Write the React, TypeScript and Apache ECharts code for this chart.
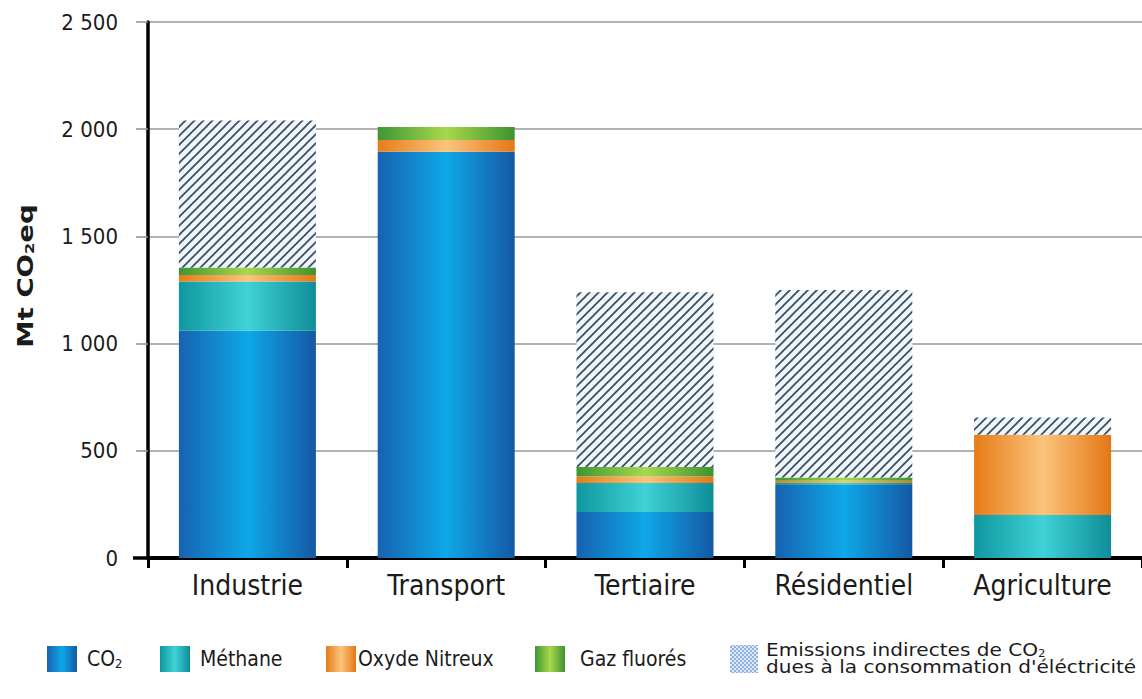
import React, { useEffect, useRef } from "react";
import * as echarts from "echarts";

// Sectors and greenhouse-gas contributions (Mt CO2eq)
const categories = ["Industrie", "Transport", "Tertiaire", "Résidentiel", "Agriculture"];
const co2 = [1060, 1895, 215, 340, 0];
const methane = [230, 0, 135, 10, 200];
const oxydeNitreux = [30, 55, 30, 10, 375];
const gazFluores = [35, 60, 45, 15, 0];
const emissionsIndirectes = [685, 0, 815, 875, 80];

const yTicks = [0, 500, 1000, 1500, 2000, 2500];

const NARROW = '"Liberation Sans Narrow", "DejaVu Sans Condensed", "Arial Narrow", sans-serif';
const WIDE = '"DejaVu Sans", sans-serif';
const TEXT = "#1b1b1b";

// horizontal "cylinder" shading: dark edges, light centre
const shade = (edgeL: string, mid: string, edgeR: string) =>
  new echarts.graphic.LinearGradient(0, 0, 1, 0, [
    { offset: 0, color: edgeL },
    { offset: 0.5, color: mid },
    { offset: 1, color: edgeR },
  ]);

const CO2_FILL = () => shade("#1762b0", "#0ea8e8", "#1558a4");
const CH4_FILL = () => shade("#0f97a0", "#3fd2d6", "#0e8d98");
const N2O_FILL = () => shade("#e67c18", "#fbc47c", "#e57716");
const FGAS_FILL = () => shade("#3e9634", "#a8d84c", "#3d9232");

// "////" hatching tile for the indirect-emission bars
function hatchTile(): HTMLCanvasElement {
  const s = 9;
  const c = document.createElement("canvas");
  c.width = s;
  c.height = s;
  const g = c.getContext("2d")!;
  g.fillStyle = "#edf6fc";
  g.fillRect(0, 0, s, s);
  g.strokeStyle = "#3c4a59";
  g.lineWidth = 1.7;
  g.lineCap = "square";
  const seg = (x0: number, y0: number, x1: number, y1: number) => {
    g.beginPath();
    g.moveTo(x0, y0);
    g.lineTo(x1, y1);
    g.stroke();
  };
  seg(0, s, s, 0);
  seg(-s / 2, s / 2, s / 2, -s / 2);
  seg(s / 2, s + s / 2, s + s / 2, s / 2);
  return c;
}

// fine dotted tile for the legend swatch of indirect emissions
function dotTile(): HTMLCanvasElement {
  const s = 4;
  const c = document.createElement("canvas");
  c.width = s;
  c.height = s;
  const g = c.getContext("2d")!;
  g.fillStyle = "#dde9f6";
  g.fillRect(0, 0, s, s);
  g.fillStyle = "#8fb3dc";
  g.fillRect(0, 0, 2, 2);
  g.fillRect(2, 2, 2, 2);
  return c;
}

export default function App() {
  const ref = useRef<HTMLDivElement>(null);

  useEffect(() => {
    if (!ref.current) return;
    const chart = echarts.init(ref.current, undefined, { renderer: "svg" });

    const barW = 137;
    const bar = (name: string, data: number[], color: any) => ({
      name,
      type: "bar",
      stack: "total",
      barWidth: barW,
      data,
      itemStyle: { color },
      emphasis: { disabled: true },
    });

    const legendY = 659;
    const legendBox = (x: number, fill: any) => ({
      type: "rect",
      shape: { x, y: legendY - 13, width: 30, height: 26 },
      style: { fill },
    });
    const legendText = (x: number, text: string, rich?: any) => ({
      type: "text",
      x,
      y: legendY,
      style: {
        text,
        rich,
        font: `21px ${NARROW}`,
        fill: TEXT,
        textVerticalAlign: "middle",
        textAlign: "left",
      },
    });

    const subRich = {
      a: { fontSize: 21, fontFamily: NARROW, fill: TEXT },
      s: { fontSize: 13, fontFamily: NARROW, fill: TEXT, padding: [8, 0, 0, 0] },
    };

    chart.setOption({
      animation: false,
      backgroundColor: "#ffffff",
      grid: { left: 148, top: 22, bottom: 141, right: -6, containLabel: false },
      xAxis: {
        type: "category",
        data: categories,
        axisLine: { lineStyle: { color: "#000", width: 4 } },
        axisTick: { show: true, length: 10, lineStyle: { color: "#000", width: 3 } },
        axisLabel: {
          color: TEXT,
          fontFamily: NARROW,
          fontSize: 28,
          margin: 13,
        },
      },
      yAxis: [
        {
          type: "value",
          min: 0,
          max: 2500,
          interval: 500,
          axisLine: { show: true, lineStyle: { color: "#000", width: 3.5 } },
          axisTick: { show: true, length: 12, lineStyle: { color: "#8f8f8f", width: 1.5 } },
          splitLine: { lineStyle: { color: "#999999", width: 1.6 } },
          axisLabel: {
            color: TEXT,
            fontFamily: NARROW,
            fontSize: 22,
            margin: 30,
            customValues: yTicks,
            formatter: (v: number) =>
              v >= 1000 ? `${Math.floor(v / 1000)} ${String(v % 1000).padStart(3, "0")}` : String(v),
          },
        },
        {
          type: "value",
          min: 0,
          max: 2500,
          position: "left",
          axisLine: { show: false },
          splitLine: { show: false },
          axisLabel: { show: false },
          axisTick: {
            show: true,
            length: 15,
            customValues: [0],
            lineStyle: { color: "#000", width: 3.5 },
          },
        },
      ],
      series: [
        bar("CO2", co2, CO2_FILL()),
        bar("Méthane", methane, CH4_FILL()),
        bar("Oxyde Nitreux", oxydeNitreux, N2O_FILL()),
        bar("Gaz fluorés", gazFluores, FGAS_FILL()),
        bar("Emissions indirectes", emissionsIndirectes, { image: hatchTile(), repeat: "repeat" }),
      ],
      graphic: [
        {
          type: "text",
          x: 25,
          y: 276,
          rotation: Math.PI / 2,
          scaleX: 1.25,
          style: {
            text: "{a|Mt CO}{s|2}{a|eq}",
            rich: {
              a: { fontSize: 22, fontFamily: WIDE, fontWeight: "bold", fill: TEXT },
              s: { fontSize: 13, fontFamily: WIDE, fontWeight: "bold", fill: TEXT, padding: [8, 0, 0, 0] },
            },
            textAlign: "center",
            textVerticalAlign: "middle",
          },
        },
        legendBox(47, CO2_FILL()),
        legendText(87, "{a|CO}{s|2}", subRich),
        legendBox(160, CH4_FILL()),
        legendText(200, "Méthane"),
        legendBox(326, N2O_FILL()),
        legendText(358, "Oxyde Nitreux"),
        legendBox(535, FGAS_FILL()),
        legendText(580, "Gaz fluorés"),
        {
          type: "rect",
          shape: { x: 730, y: legendY - 14, width: 28, height: 28 },
          style: { fill: { image: dotTile(), repeat: "repeat" } },
        },
        {
          type: "text",
          x: 766,
          y: legendY,
          scaleX: 1.18,
          style: {
            text: "{a|Emissions indirectes de CO}{s|2}\n{a|dues à la consommation d'éléctricité}",
            rich: {
              a: { fontSize: 17, fontFamily: WIDE, fill: TEXT, lineHeight: 17 },
              s: { fontSize: 10, fontFamily: WIDE, fill: TEXT, lineHeight: 17, padding: [6, 0, 0, 0] },
            },
            textAlign: "left",
            textVerticalAlign: "middle",
          },
        },
      ],
    });

    return () => chart.dispose();
  }, []);

  return (
    <div
      ref={ref}
      style={{ position: "fixed", left: 0, top: 0, width: 1142, height: 699, background: "#fff" }}
    />
  );
}
